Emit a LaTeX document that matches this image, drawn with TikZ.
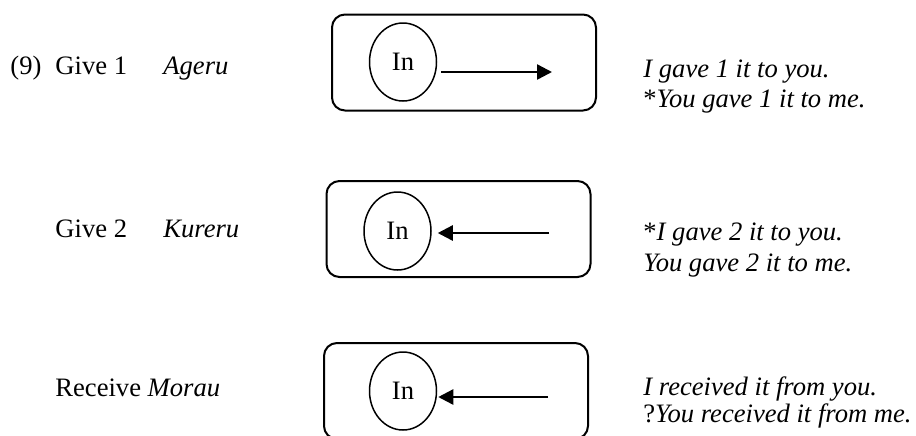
\documentclass[tikz,border=0pt]{standalone}
\usepackage{fontspec}
\setmainfont{Liberation Serif}
\usetikzlibrary{arrows.meta,shapes.geometric}
\begin{document}
\begin{tikzpicture}[x=0.5pt,y=-0.5pt,
  frame/.style={draw,line width=1pt,rounded corners=6.5pt,minimum width=132pt,minimum height=48pt,inner sep=0pt},
  role/.style={draw,ellipse,line width=0.75pt,minimum width=33.5pt,minimum height=39pt,inner sep=0pt},
  flow/.style={line width=1.2pt,-{Triangle[length=7.5pt,width=7.5pt]}},
  word/.style={anchor=base west,inner sep=0pt}]
  \useasboundingbox (0,0) rectangle (916,435);
  \begin{scope}[font=\fontsize{13.3}{15}\selectfont]
  % Give 1
  \node[frame] (box1) at (464,62.5) {};
  \node[role] (in1) at (403,62) {In};
  \coordinate (tip1) at (552,72);
  \draw[flow,shorten <=2pt] (in1.east |- tip1) -- (tip1);
  \node[word] (num) at (10,74) {(9)};
  \node[word] (give1) at (55,74) {Give 1};
  \node[word] (jp1) at (163,74) {\itshape Ageru};
  \node[word] (s1a) at (643,77) {\itshape I gave 1 it to you.};
  \node[word] (s1b) at (643,107) {*\itshape You gave 1 it to me.};
  % Give 2
  \node[frame] (box2) at (458.5,229) {};
  \node[role] (in2) at (397.5,231) {In};
  \coordinate (tail2) at (549,233);
  \draw[flow,shorten >=3pt] (tail2) -- (in2.east |- tail2);
  \node[word] (give2) at (55,237) {Give 2};
  \node[word] (jp2) at (163,237) {\itshape Kureru};
  \node[word] (s2a) at (643,240) {*\itshape I gave 2 it to you.};
  \node[word] (s2b) at (643,271) {\itshape You gave 2 it to me.};
  % Receive
  \node[frame] (box3) at (456,391) {};
  \node[role] (in3) at (403,391) {In};
  \coordinate (tail3) at (548,397);
  \draw[flow,shorten >=0.5pt] (tail3) -- (in3.east |- tail3);
  \node[word] (get3) at (55,396) {Receive \itshape Morau};
  \node[word] (s3a) at (643,395) {\itshape I received it from you.};
  \node[word] (s3b) at (643,422) {?\itshape You received it from me.};
  \end{scope}
\end{tikzpicture}
\end{document}
